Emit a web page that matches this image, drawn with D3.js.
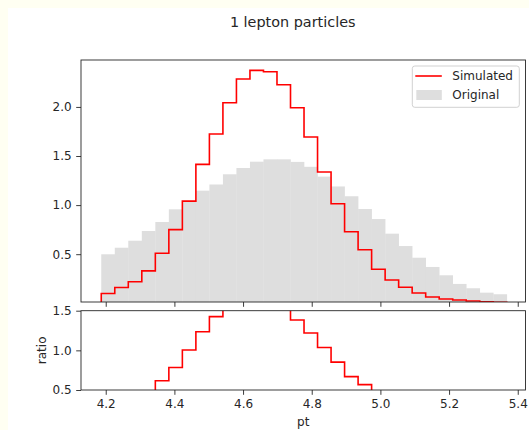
<!DOCTYPE html>
<html>
<head>
<meta charset="utf-8">
<script src="https://cdn.jsdelivr.net/npm/d3@7"></script>
<style>
  html, body { margin: 0; padding: 0; background: #fffff2; }
  svg { display: block; }
  text { font-family: "DejaVu Sans", sans-serif; fill: #262626; }
</style>
</head>
<body>
<svg id="chart" width="529" height="430"></svg>
<script>
// Histogram binning of pt (30 equal-width bins)
const binStart = 4.187;
const binWidth = 0.03937;

// Normalised densities per bin
const simulated = [0.10, 0.16, 0.22, 0.33, 0.51, 0.75, 1.04, 1.415, 1.724, 2.043,
                   2.284, 2.372, 2.359, 2.226, 1.992, 1.693, 1.337, 1.014, 0.729, 0.545,
                   0.346, 0.237, 0.163, 0.105, 0.064, 0.044, 0.034, 0.023, 0.016, 0.010];
const original  = [0.499, 0.566, 0.637, 0.736, 0.828, 0.957, 1.036, 1.147, 1.21, 1.314,
                   1.378, 1.442, 1.466, 1.466, 1.44, 1.39, 1.29, 1.19, 1.09, 0.96,
                   0.858, 0.709, 0.583, 0.464, 0.37, 0.285, 0.197, 0.153, 0.108, 0.092];

const xTicks = [4.2, 4.4, 4.6, 4.8, 5.0, 5.2, 5.4];
const yTicksMain = [0.5, 1.0, 1.5, 2.0];
const yTicksRatio = [0.5, 1.0, 1.5];

const edges = d3.range(simulated.length + 1).map(i => binStart + i * binWidth);
const ratio = simulated.map((v, i) => v / original[i]);

const svg = d3.select("#chart");
svg.append("rect").attr("x", 8).attr("y", 8).attr("width", 521).attr("height", 422).attr("fill", "#ffffff");

const left = 81, right = 525.5;
const main = { top: 60, bottom: 302 };
const sub = { top: 310.7, bottom: 390 };

const x = d3.scaleLinear().domain([4.128, 5.4226]).range([left, right]);
const y = d3.scaleLinear().domain([0.013, 2.478]).range([main.bottom, main.top]);
const yr = d3.scaleLinear().domain([0.5, 1.5]).range([sub.bottom, sub.top]);

const defs = svg.append("defs");
defs.append("clipPath").attr("id", "clipMain").append("rect")
  .attr("x", left).attr("y", main.top).attr("width", right - left).attr("height", main.bottom - main.top);
defs.append("clipPath").attr("id", "clipSub").append("rect")
  .attr("x", left).attr("y", sub.top).attr("width", right - left).attr("height", sub.bottom - sub.top);

// Step outline through bin tops, closed to the baseline at both ends
function stepPath(values, ys, base) {
  const p = d3.path();
  p.moveTo(x(edges[0]), ys(base));
  values.forEach((v, i) => {
    p.lineTo(x(edges[i]), ys(v));
    p.lineTo(x(edges[i + 1]), ys(v));
  });
  p.lineTo(x(edges[edges.length - 1]), ys(base));
  return p.toString();
}

// Main panel
const gMain = svg.append("g").attr("clip-path", "url(#clipMain)");
gMain.selectAll("rect.orig").data(original).join("rect")
  .attr("class", "orig")
  .attr("x", (d, i) => x(edges[i]))
  .attr("width", (d, i) => x(edges[i + 1]) - x(edges[i]) + 0.3)
  .attr("y", d => y(d))
  .attr("height", d => y(0) - y(d))
  .attr("fill", "#dedede");
gMain.append("path").attr("d", stepPath(simulated, y, 0))
  .attr("fill", "none").attr("stroke", "#ff0000").attr("stroke-width", 1.6);

// Ratio panel
const gSub = svg.append("g").attr("clip-path", "url(#clipSub)");
gSub.append("path").attr("d", stepPath(ratio, yr, 0))
  .attr("fill", "none").attr("stroke", "#ff0000").attr("stroke-width", 1.6);

// Axes
function styleAxis(g) {
  g.selectAll(".domain").remove();
  g.selectAll(".tick line").attr("stroke", "#262626").attr("stroke-width", 0.9);
  g.selectAll(".tick text").attr("font-size", 12).attr("fill", "#262626")
    .attr("font-family", "DejaVu Sans, sans-serif");
}
svg.append("g").attr("transform", `translate(0,${main.bottom})`)
  .call(d3.axisBottom(x).tickValues(xTicks).tickSize(4.8).tickFormat(""))
  .call(styleAxis);
svg.append("g").attr("transform", `translate(0,${sub.bottom})`)
  .call(d3.axisBottom(x).tickValues(xTicks).tickSize(4.8).tickPadding(4.5).tickFormat(d3.format(".1f")))
  .call(styleAxis);
svg.append("g").attr("transform", `translate(${left},0)`)
  .call(d3.axisLeft(y).tickValues(yTicksMain).tickSize(4.8).tickPadding(4.5).tickFormat(d3.format(".1f")))
  .call(styleAxis);
svg.append("g").attr("transform", `translate(${left},0)`)
  .call(d3.axisLeft(yr).tickValues(yTicksRatio).tickSize(4.8).tickPadding(4.5).tickFormat(d3.format(".1f")))
  .call(styleAxis);

// Frames
[main, sub].forEach(p => {
  svg.append("rect").attr("x", left).attr("y", p.top)
    .attr("width", right - left).attr("height", p.bottom - p.top)
    .attr("fill", "none").attr("stroke", "#262626").attr("stroke-width", 0.9);
});

// Titles and labels
svg.append("text").attr("x", 292.7).attr("y", 27).attr("text-anchor", "middle")
  .attr("font-size", 14.4).text("1 lepton particles");
svg.append("text").attr("x", (left + right) / 2).attr("y", 426).attr("text-anchor", "middle")
  .attr("font-size", 12).text("pt");
svg.append("text").attr("transform", `translate(46,${(sub.top + sub.bottom) / 2}) rotate(-90)`)
  .attr("text-anchor", "middle").attr("font-size", 12).text("ratio");

// Legend
const lg = svg.append("g").attr("transform", "translate(412.3,66)");
lg.append("rect").attr("width", 107).attr("height", 41.3).attr("rx", 2.5)
  .attr("fill", "#ffffff").attr("fill-opacity", 0.8).attr("stroke", "#cccccc").attr("stroke-width", 0.9);
lg.append("line").attr("x1", 3).attr("x2", 29.5).attr("y1", 10).attr("y2", 10)
  .attr("stroke", "#ff0000").attr("stroke-width", 1.6);
lg.append("text").attr("x", 40).attr("y", 14.3).attr("font-size", 12).text("Simulated");
lg.append("rect").attr("x", 4).attr("y", 24).attr("width", 25.5).attr("height", 10).attr("fill", "#dedede");
lg.append("text").attr("x", 40).attr("y", 33).attr("font-size", 12).text("Original");
</script>
</body>
</html>
